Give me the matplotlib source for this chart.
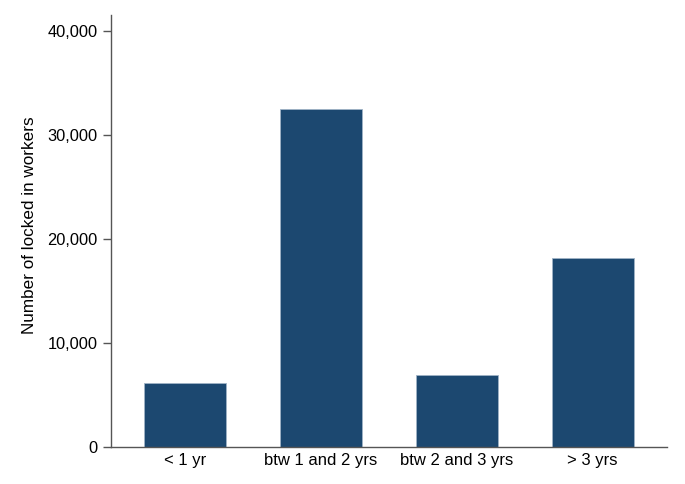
import matplotlib
matplotlib.use("Agg")
import matplotlib.pyplot as plt
from matplotlib.ticker import FuncFormatter
import numpy as np

categories = ["< 1 yr", "btw 1 and 2 yrs", "btw 2 and 3 yrs", "> 3 yrs"]
locked_in = [6130, 32500, 6870, 18130]
y_ticks = [0, 10000, 20000, 30000, 40000]

plt.rcParams['font.family'] = ['Liberation Sans', 'DejaVu Sans']

fig = plt.figure(figsize=(6.85, 4.84), dpi=100)
ax = fig.add_axes([0.162, 0.077, 0.812, 0.892])

x = np.arange(len(categories))
ax.bar(x, locked_in, width=0.604, color="#1c4870", edgecolor="#9fb3c6", linewidth=0.6)

ax.set_xlim(-0.547, 3.55)
ax.set_ylim(0, 41550)
ax.set_yticks(y_ticks)
ax.yaxis.set_major_formatter(FuncFormatter(lambda v, p: f"{int(v):,}"))
ax.set_xticks(x)
ax.set_xticklabels(categories)

for side in ("top", "right"):
    ax.spines[side].set_visible(False)
for side in ("left", "bottom"):
    ax.spines[side].set_color("#555555")
    ax.spines[side].set_linewidth(1.0)

ax.tick_params(axis="y", length=6, width=1.0, color="#555555", labelsize=11.8, pad=3.5)
ax.tick_params(axis="x", length=0, labelsize=12, pad=4.5)
ax.set_ylabel("Number of locked in workers", fontsize=12.3, va="center")
ax.yaxis.set_label_coords(-0.147, 0.514)

fig.savefig("out.png", dpi=100)
